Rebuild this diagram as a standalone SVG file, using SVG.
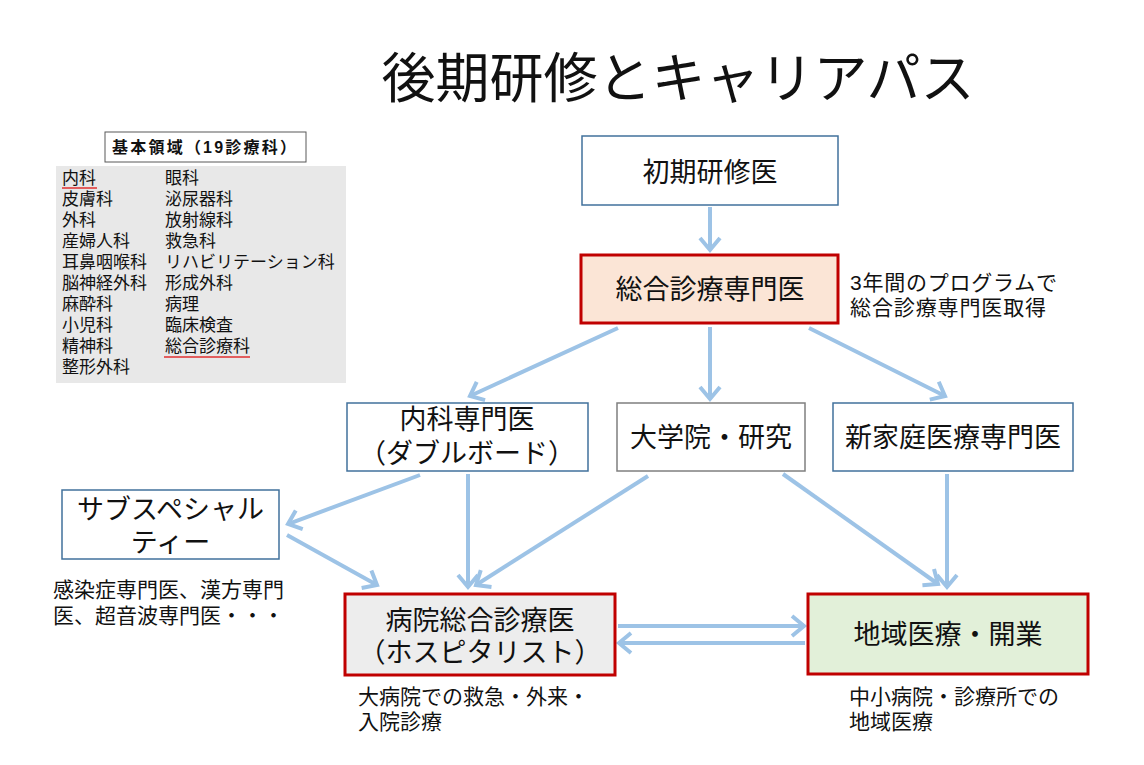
<svg xmlns="http://www.w3.org/2000/svg" width="1144" height="765" viewBox="0 0 1144 765">
<style>
text{font-family:"Liberation Sans","Noto Sans CJK JP",sans-serif;fill:#111}
.node{font-size:27px;text-anchor:middle}
.note{font-size:21px}
.list{font-size:17px}
.bl{fill:#fff;stroke:#41719c;stroke-width:1.5}
.gr{fill:#fff;stroke:#7f7f7f;stroke-width:1.5}
.rd{stroke:#c00000;stroke-width:3}
.arr{stroke:#9dc3e6;stroke-width:4;fill:none;marker-end:url(#ah)}
.ul{stroke:#e03030;stroke-width:1.5}
</style>
<defs>
<marker id="ah" markerUnits="userSpaceOnUse" viewBox="-20 -20 40 40" markerWidth="40" markerHeight="40" refX="0" refY="0" orient="auto">
<path d="M-12,-10 L0,0 L-12,10" fill="none" stroke="#9dc3e6" stroke-width="4"/>
</marker>
</defs>
<rect width="1144" height="765" fill="#fff"/>
<text id="title" x="678" y="98" font-size="54" text-anchor="middle">後期研修とキャリアパス</text>

<g id="legend">
<rect x="105" y="132" width="201" height="30" fill="#fff" stroke="#595959" stroke-width="1"/>
<text x="112" y="153" font-size="16" font-weight="bold" textLength="184" lengthAdjust="spacing">基本領域（19診療科）</text>
<rect x="56" y="166" width="290" height="217" fill="#e8e8e8"/>
<g class="list">
<text class="list" x="62" y="184">内科</text>
<text class="list" x="62" y="205">皮膚科</text>
<text class="list" x="62" y="226">外科</text>
<text class="list" x="62" y="247">産婦人科</text>
<text class="list" x="62" y="268">耳鼻咽喉科</text>
<text class="list" x="62" y="289">脳神経外科</text>
<text class="list" x="62" y="310">麻酔科</text>
<text class="list" x="62" y="331">小児科</text>
<text class="list" x="62" y="352">精神科</text>
<text class="list" x="62" y="373">整形外科</text>
<text class="list" x="165" y="184">眼科</text>
<text class="list" x="165" y="205">泌尿器科</text>
<text class="list" x="165" y="226">放射線科</text>
<text class="list" x="165" y="247">救急科</text>
<text class="list" x="165" y="268">リハビリテーション科</text>
<text class="list" x="165" y="289">形成外科</text>
<text class="list" x="165" y="310">病理</text>
<text class="list" x="165" y="331">臨床検査</text>
<text class="list" x="165" y="352">総合診療科</text>
</g>
<line class="ul" x1="62" y1="188" x2="97" y2="188"/>
<line class="ul" x1="164" y1="357" x2="250" y2="357"/>
</g>

<g id="connectors">
<line class="arr" x1="710" y1="207" x2="710" y2="250"/>
<line class="arr" x1="618" y1="328" x2="470" y2="396"/>
<line class="arr" x1="710" y1="327" x2="710" y2="399"/>
<line class="arr" x1="809" y1="328" x2="945" y2="396"/>
<line class="arr" x1="420" y1="475" x2="288" y2="524"/>
<line class="arr" x1="468" y1="474" x2="468" y2="587"/>
<line class="arr" x1="648" y1="476" x2="476" y2="585"/>
<line class="arr" x1="287" y1="535" x2="377" y2="585"/>
<line class="arr" x1="783" y1="474" x2="938" y2="584"/>
<line class="arr" x1="947" y1="474" x2="947" y2="587"/>
<line class="arr" x1="618" y1="626" x2="804" y2="626"/>
<line class="arr" x1="805" y1="643" x2="619" y2="643"/>
</g>

<g id="n-shoki">
<rect class="bl" x="582" y="136" width="256" height="69"/>
<text class="node" x="710" y="182">初期研修医</text>
</g>
<g id="n-sogo">
<rect class="rd" x="581" y="255" width="257" height="68" fill="#fbe5d6"/>
<text class="node" x="710" y="299">総合診療専門医</text>
</g>
<g id="note-sogo">
<text class="note" x="850" y="290" textLength="207" lengthAdjust="spacing">3年間のプログラムで</text>
<text class="note" x="850" y="315" textLength="196" lengthAdjust="spacing">総合診療専門医取得</text>
</g>
<g id="n-naika">
<rect class="bl" x="347" y="403" width="241" height="68"/>
<text class="node" x="467" y="429">内科専門医</text>
<text class="node" x="467" y="463">（ダブルボード）</text>
</g>
<g id="n-daigaku">
<rect class="gr" x="617" y="403" width="188" height="68"/>
<text class="node" x="711" y="447">大学院・研究</text>
</g>
<g id="n-katei">
<rect class="bl" x="833" y="403" width="240" height="68"/>
<text class="node" x="953" y="447">新家庭医療専門医</text>
</g>
<g id="n-sub">
<rect class="bl" x="62" y="490" width="217" height="69"/>
<text class="node" x="170.5" y="519">サブスペシャル</text>
<text class="node" x="170.5" y="552">ティー</text>
</g>
<g id="note-sub">
<text class="note" x="53" y="597">感染症専門医、漢方専門</text>
<text class="note" x="53" y="623">医、超音波専門医・・・</text>
</g>
<g id="n-byoin">
<rect class="rd" x="345" y="594" width="270" height="81" fill="#ededed"/>
<text class="node" x="480" y="630">病院総合診療医</text>
<text class="node" x="480" y="662">（ホスピタリスト）</text>
</g>
<g id="note-byoin">
<text class="note" x="358" y="704">大病院での救急・外来・</text>
<text class="note" x="358" y="729">入院診療</text>
</g>
<g id="n-chiiki">
<rect class="rd" x="808" y="594" width="280" height="80" fill="#e2f0d9"/>
<text class="node" x="948" y="644">地域医療・開業</text>
</g>
<g id="note-chiiki">
<text class="note" x="849" y="704">中小病院・診療所での</text>
<text class="note" x="849" y="729">地域医療</text>
</g>
</svg>
